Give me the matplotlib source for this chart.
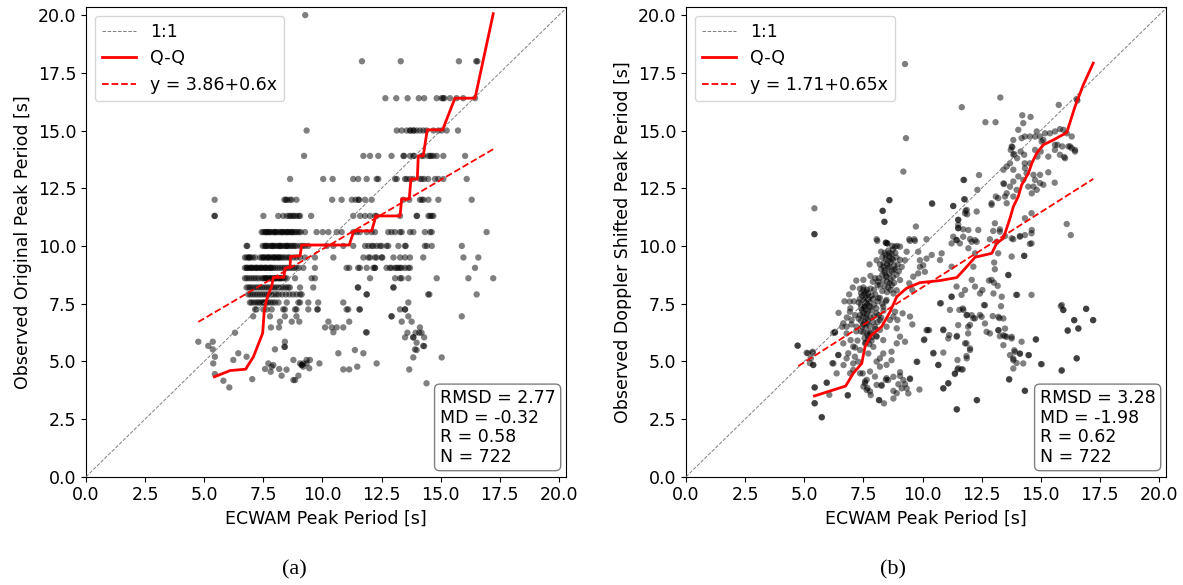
import matplotlib.pyplot as plt

# ---- panel (a): observed original peak period (binned rows) ----
a_levels = [20.0, 18.0, 16.4, 15.0, 13.9, 12.9, 12.0, 11.3, 10.6, 10.0,
            9.5, 9.05, 8.6, 8.2, 7.9, 7.55, 7.25, 6.95]
a_rows_x = [
    [9.27],
    [11.67, 13.31, 15.77, 16.5, 16.55],
    [12.66, 13.12, 13.6, 14.07, 14.3, 14.83, 15.04, 15.1, 15.15, 15.39, 15.67, 15.95, 16.45],
    [9.33, 13.14, 13.35, 13.56, 13.7, 13.72, 13.84, 13.86, 13.98, 14.12, 14.26, 14.4, 14.69,
     14.9, 15.04, 15.25, 15.73],
    [9.22, 11.73, 12.01, 12.36, 12.92, 13.42, 13.45, 13.7, 13.84, 13.88, 14.19, 14.27, 14.47,
     14.55, 14.6, 14.69, 14.83, 15.11, 16.03],
    [8.63, 10.03, 10.43, 11.3, 11.51, 11.87, 12.29, 12.36, 13.07, 13.14, 13.49, 13.56, 13.7,
     13.84, 14.12, 14.2, 14.3, 14.47, 14.76, 14.9, 15.11, 16.1],
    [5.44, 8.39, 8.45, 8.5, 8.62, 8.7, 8.9, 10.41, 10.81, 11.24, 11.4, 11.52, 11.55, 11.8,
     12.08, 13.42, 13.67, 14.12, 14.2, 14.27, 14.48, 14.9, 16.31],
    [5.44, 5.44, 7.5, 8.13, 8.34, 8.5, 8.6, 8.65, 8.75, 8.8, 8.9, 9.0, 9.05, 9.52, 11.3,
     11.59, 11.8, 12.01, 12.22, 12.29, 13.28, 13.98, 14.0, 14.48, 14.55, 14.62, 14.69],
    [7.43, 7.5, 7.58, 7.65, 7.72, 7.8, 7.88, 7.95, 8.02, 8.1, 8.18, 8.25, 8.32, 8.4, 8.48,
     8.55, 8.62, 8.7, 8.78, 8.85, 8.92, 9.0, 9.08, 9.26, 7.6, 7.75, 8.0, 8.3, 8.5, 8.7,
     9.75, 10.01, 10.25, 10.6, 10.81, 11.3, 11.45, 11.58, 11.87, 12.08, 12.22, 12.78,
     12.92, 13.07, 13.28, 13.35, 13.7, 13.84, 14.33, 14.55, 14.62, 16.94],
    [6.79, 6.82, 7.47, 7.55, 7.62, 7.7, 7.78, 7.85, 7.92, 8.0, 8.08, 8.15, 8.22, 8.3, 8.38,
     8.45, 8.52, 8.6, 8.68, 8.75, 8.82, 8.9, 9.05, 9.15, 9.26, 9.4, 7.6, 7.9, 8.2, 8.5,
     10.18, 10.46, 10.88, 11.3, 11.8, 11.94, 12.08, 12.15, 12.29, 12.43, 12.5, 12.71,
     12.78, 13.21, 13.49, 13.52, 14.33, 14.41, 14.62, 15.89],
    [6.72, 6.8, 6.88, 6.95, 7.05, 7.15, 7.36, 7.44, 7.52, 7.6, 7.68, 7.75, 7.82, 7.9, 7.98,
     8.05, 8.12, 8.2, 8.28, 8.35, 8.45, 8.55, 8.62, 8.77, 8.9, 9.05, 9.26, 6.9, 7.5, 7.7,
     7.95, 8.15, 9.68, 10.46, 11.73, 11.94, 12.01, 12.22, 12.29, 12.5, 12.53, 13.0, 13.28,
     13.49, 13.7, 14.26, 15.96, 16.59],
    [6.72, 6.8, 6.88, 6.95, 7.02, 7.1, 7.18, 7.25, 7.32, 7.4, 7.48, 7.55, 7.62, 7.7, 7.78,
     7.85, 7.92, 8.0, 8.1, 8.2, 8.3, 8.4, 8.5, 8.6, 8.7, 8.8, 8.9, 9.0, 9.19, 6.8, 7.0,
     7.2, 7.4, 7.6, 7.8, 9.68, 11.02, 11.13, 11.51, 11.58, 11.87, 12.15, 12.22, 12.22,
     12.71, 12.85, 12.92, 13.07, 13.14, 13.21, 13.28, 13.35, 13.49, 13.63, 13.7, 16.45],
    [6.72, 6.8, 6.9, 7.0, 7.1, 7.2, 7.3, 7.43, 7.5, 7.58, 7.65, 7.72, 7.8, 7.88, 7.95,
     8.02, 8.1, 8.18, 8.25, 8.32, 8.4, 8.49, 7.6, 7.8, 8.0, 8.2, 8.84, 9.54, 9.68, 12.01,
     13.07, 13.28, 13.35, 13.63, 14.83, 16.17, 17.22],
    [6.79, 6.88, 6.95, 7.05, 7.15, 7.25, 7.35, 7.45, 7.55, 7.65, 7.75, 7.85, 7.95, 8.05,
     8.15, 8.25, 8.35, 8.45, 8.55, 8.62, 9.05, 9.61, 11.49, 11.51, 13.0, 13.0],
    [6.86, 6.95, 7.05, 7.15, 7.25, 7.35, 7.45, 7.55, 7.65, 7.75, 7.85, 7.95, 8.05, 8.15,
     8.3, 8.45, 8.6, 8.75, 8.9, 9.05, 9.12, 11.87, 11.87, 14.47, 14.52, 16.52],
    [6.93, 7.0, 7.1, 7.2, 7.28, 7.35, 7.45, 7.5, 7.55, 7.62, 7.7, 7.8, 7.9, 8.0, 8.14,
     8.49, 8.98, 9.05, 9.4, 9.82, 10.88, 13.63],
    [7.15, 7.21, 7.5, 7.64, 7.85, 8.34, 8.41, 8.84, 8.9, 9.4, 9.78, 9.8, 11.02, 11.09,
     11.56, 11.58, 13.28, 13.49, 13.49],
    [7.07, 7.78, 8.41, 8.9, 12.92, 12.92, 13.63, 15.89],
]
a_extra_x = [8.2, 8.7, 9.02, 10.25, 11.13, 13.35, 13.77, 7.82, 8.16, 10.11, 10.39, 10.6,
             10.88, 14.12, 10.46, 11.84, 13.59, 13.94, 14.09, 14.19, 6.3, 13.49, 13.84,
             13.84, 14.3, 13.98, 14.26, 13.91, 13.98, 14.3, 13.84, 15.04, 14.4, 13.67,
             12.29, 11.73, 11.37, 11.47, 10.88, 11.13, 10.67, 4.75, 5.17, 5.36, 5.36, 5.45,
             5.38, 5.45, 5.81, 6.06, 6.23, 6.44, 6.79, 7.03, 7.57, 7.71, 7.85, 7.81, 7.99,
             8.17, 8.27, 8.41, 8.41, 8.48, 8.77, 8.77, 8.84, 8.98, 9.05, 9.12, 9.19, 9.33,
             9.44, 9.33, 9.47, 9.87, 7.92, 9.12, 9.19, 8.39, 11.87]
a_extra_y = [6.72, 6.72, 6.72, 6.72, 6.72, 6.72, 6.72, 6.47, 6.47, 6.47, 6.47, 6.47,
             6.47, 6.47, 6.26, 6.26, 6.24, 6.24, 6.24, 6.24, 6.24, 6.04, 6.04,
             6.04, 6.04, 5.81, 5.67, 5.52, 5.49, 5.66, 5.17, 5.17, 4.05, 4.65,
             4.91, 5.35, 5.49, 4.77, 4.65, 4.65, 5.35, 5.85, 5.67, 5.85, 5.52, 5.2,
             4.91, 4.45, 4.16, 3.87, 5.06, 5.35, 5.2, 4.23, 4.67, 4.91, 4.77, 4.55, 5.52,
             4.67, 4.38, 5.85, 5.63, 4.64, 5.06, 4.19, 4.19, 4.38, 4.91, 4.84, 4.77, 4.91,
             4.7, 5.06, 5.06, 4.91, 4.84, 4.84, 4.91, 5.63, 6.25]

a_qq_x = [5.43, 6.09, 6.75, 7.08, 7.47, 7.54, 7.67, 7.85, 7.92, 8.37, 8.41, 8.63, 8.65,
          9.05, 9.12, 11.13, 11.33, 12.08, 12.26, 13.28, 13.35, 13.67, 13.74, 14.01,
          14.05, 14.26, 14.43, 15.08, 15.6, 16.45, 17.22]
a_qq_y = [4.33, 4.6, 4.66, 5.2, 6.22, 7.23, 7.8, 8.24, 8.64, 8.64, 9.03, 9.1, 9.54,
          9.57, 10.04, 10.04, 10.65, 10.65, 11.3, 11.3, 12.04, 12.04, 12.9, 12.9,
          13.9, 13.9, 15.03, 15.03, 16.4, 16.4, 20.06]
a_fit = (3.86, 0.6)
a_stats = "RMSD = 2.77\nMD = -0.32\nR = 0.58\nN = 722"

# ---- panel (b): observed Doppler shifted peak period ----
b_dense_x = [8.25, 8.4, 8.55, 8.7, 8.85, 8.3, 8.45, 8.6, 8.75, 8.9, 8.35, 8.5, 8.65, 8.8,
             8.95, 8.25, 8.4, 8.55, 8.7, 8.85, 8.3, 8.45, 8.6, 8.75, 8.9, 8.35, 8.5, 8.65,
             8.8, 8.2, 8.4, 8.55, 8.7, 8.3, 8.5, 8.65, 8.45, 8.6, 8.5, 8.7, 8.4, 8.55,
             8.8, 8.35, 8.6, 8.75, 8.15, 9.0, 9.05, 8.2,
             7.35, 7.5, 7.65, 7.8, 7.4, 7.55, 7.7, 7.85, 7.35, 7.5, 7.6, 7.75, 7.9, 7.4,
             7.55, 7.65, 7.8, 7.45, 7.6, 7.7, 7.85, 7.35, 7.5, 7.65, 7.8, 7.4, 7.55, 7.7,
             7.9, 7.45, 7.6, 7.75, 7.5, 7.65, 7.8, 7.55, 7.7, 7.85, 7.6, 7.75, 7.45, 7.6,
             7.5, 7.65, 7.55, 7.7, 7.4, 7.6, 7.75, 7.5, 7.3, 7.95, 7.95, 7.3, 8.0, 8.05,
             7.4, 7.7, 7.85, 7.6,
             8.0, 8.1, 8.05, 8.15, 8.2, 7.95, 8.1, 8.0, 7.9, 7.8, 8.3, 8.35, 8.25, 8.45,
             8.1]
b_dense_y = [9.75, 9.7, 9.8, 9.65, 9.7, 9.5, 9.45, 9.55, 9.4, 9.5, 9.25, 9.2, 9.3, 9.15,
             9.2, 9.0, 8.95, 9.05, 8.9, 9.0, 8.75, 8.7, 8.8, 8.65, 8.75, 8.5, 8.45, 8.55,
             8.4, 8.3, 8.25, 8.2, 8.3, 8.05, 8.0, 8.1, 9.6, 9.1, 8.65, 9.45, 8.85, 9.35,
             8.95, 9.1, 8.4, 9.85, 8.6, 8.9, 9.4, 9.2,
             8.15, 8.2, 8.1, 8.15, 7.95, 7.9, 7.95, 7.85, 7.7, 7.65, 7.75, 7.6, 7.7, 7.45,
             7.4, 7.5, 7.35, 7.2, 7.25, 7.15, 7.2, 7.0, 6.95, 7.05, 6.9, 6.75, 6.7, 6.8,
             6.7, 6.5, 6.45, 6.55, 6.25, 6.2, 6.3, 6.0, 5.95, 6.05, 5.8, 5.75, 7.85, 7.55,
             7.1, 6.65, 7.35, 7.7, 7.3, 6.9, 7.4, 6.6, 7.55, 7.45, 6.95, 6.85, 6.4, 6.1,
             6.3, 6.1, 5.9, 8.0,
             7.9, 7.6, 7.3, 7.0, 7.75, 8.1, 8.3, 8.6, 8.45, 8.7, 7.5, 7.2, 6.9, 7.6,
             6.7]

b_x = [5.43, 5.43, 5.43, 8.6, 8.31, 8.39, 8.09, 8.51, 8.51, 9.72, 10.17, 9.47, 9.68, 8.84,
       9.05, 8.6, 7.76, 7.5, 8.13, 6.92, 6.23, 4.72, 5.15, 5.35, 5.24, 5.38, 6.19, 6.44,
       6.65, 6.37, 5.95, 5.43, 5.43, 5.74, 6.06, 6.84, 9.47, 9.57, 10.22, 10.06, 9.78,
       9.87, 9.47, 9.4, 9.19, 8.98, 8.77, 8.77, 8.45, 8.16, 8.27, 7.99, 7.78, 7.78, 7.57,
       7.5, 7.67, 7.36, 7.07, 7.28, 7.64, 8.06, 8.2, 8.48, 8.69, 8.34, 8.69, 8.91, 9.05,
       9.26, 8.91, 8.77, 8.94, 9.16, 8.84, 8.2, 8.48, 9.05, 9.05, 9.26, 9.33, 6.79, 6.96,
       7.07, 6.86, 7.14, 7.36, 7.21, 7.0, 6.79, 7.57, 7.71, 7.92, 8.06, 8.2, 7.99, 7.78,
       8.34, 8.48, 8.62, 8.2, 8.06, 8.34, 8.48, 8.77, 8.13, 7.76, 8.91, 9.05, 9.12, 9.26,
       9.33, 9.82, 9.89, 9.82, 9.61, 9.44, 9.57, 10.03, 10.17, 9.89, 8.06, 7.5, 6.93,
       6.65, 6.3, 6.9, 7.1, 6.95, 7.15, 7.0, 6.8, 6.6, 7.2, 6.45, 7.05, 7.2, 6.7, 7.25,
       7.15,
       11.51, 11.51, 11.51, 11.23, 11.44, 11.58, 11.94, 12.36, 11.94, 12.08, 12.29, 11.8,
       11.87, 12.29, 11.3, 12.92, 13.06, 13.27, 13.13, 13.77, 14.33, 14.61, 14.61, 14.33,
       14.12, 14.61, 14.3, 13.77, 13.2, 13.03, 13.06, 13.63, 12.81, 13.02, 13.18, 13.96,
       14.61, 13.0, 13.35, 13.32, 12.64, 13.21, 13.42, 13.49, 13.42, 13.56, 13.27, 13.21,
       13.42, 13.77, 13.7, 13.91, 14.12, 14.19, 14.48, 13.84, 13.84, 13.66, 14.33, 14.8,
       15.01, 15.88, 15.85, 15.95, 16.14, 16.42, 16.59, 16.92, 17.21, 16.52, 16.1, 16.27,
       12.31, 11.46, 10.88, 11.09, 10.67, 10.46, 10.88, 10.28, 10.88, 11.13, 11.46, 11.23,
       10.74, 11.65, 11.8, 12.08, 11.44, 11.7, 11.86, 12.08, 12.22, 11.51, 11.93, 11.93,
       11.86, 12.01, 11.86, 11.48, 11.51, 11.65, 11.37, 12.5, 12.71, 12.85, 12.64, 12.92,
       12.53, 12.43, 12.22, 10.74, 10.39, 10.81, 10.1, 11.23, 12.15, 12.22,
       9.26, 9.3, 9.19, 11.66, 13.29, 12.66, 13.09, 14.22, 14.57, 15.76, 16.52, 16.55,
       8.6, 10.4, 11.73, 12.39, 11.79, 12.32, 12.92, 13.1, 13.2, 13.42, 13.45, 13.49,
       13.56, 13.7, 13.56, 13.84, 13.98, 13.84, 13.77, 13.8, 13.84, 13.88, 13.7, 13.56,
       13.42, 13.84, 14.05, 14.26, 14.4, 14.47, 14.69, 14.76, 14.83, 14.97, 14.97, 15.11,
       14.69, 14.62, 14.33, 14.54, 14.76, 14.86, 15.0, 15.32, 15.32, 15.04, 15.18, 14.97,
       14.76, 14.54, 14.33, 14.19, 14.05, 13.84, 13.73, 14.0, 14.15, 14.3, 14.32, 15.39,
       15.6, 15.81, 15.96, 16.1, 16.31, 16.24, 16.45, 16.17, 15.81, 16.03, 15.6, 15.91,
       15.6, 14.26, 14.83, 15.11, 16.45, 16.31, 15.99, 15.59, 15.71,
       4.72, 5.1, 5.36, 5.28, 5.38, 5.45, 5.45, 5.74, 5.95, 6.23, 6.3, 6.44, 6.66, 6.79,
       6.84, 6.94, 7.07, 7.47, 7.57, 7.64, 7.81, 8.17, 8.37, 8.06, 8.27, 8.55, 8.77, 8.91,
       9.12, 9.47, 9.75, 10.17, 10.08, 10.46, 10.67, 10.88, 11.09, 11.44, 12.29, 11.37,
       11.48, 11.7, 11.87, 12.01, 11.8, 11.09, 10.88, 11.44, 10.78, 11.16, 11.56, 11.23,
       11.73, 11.89, 12.15, 12.43, 12.01, 12.6, 12.97, 13.25, 13.21, 13.49, 13.77, 13.88,
       14.12, 13.84, 13.98, 14.26, 14.5, 14.79, 15.04, 15.89, 15.89, 15.96, 16.92, 17.22,
       16.41, 16.59, 16.14, 16.52, 14.33, 13.67, 14.3, 14.0, 13.63, 14.54, 14.62, 14.12,
       13.84,
       8.32, 8.39, 10.41, 11.3, 11.76, 11.76, 11.82, 11.89, 11.51, 11.51, 11.72, 11.3,
       11.44, 11.72, 12.01, 12.22, 8.06, 8.45, 8.45, 8.72, 8.93, 9.44, 9.65, 12.85, 12.99,
       13.27, 13.49]
b_y = [11.63, 10.51, 10.51, 11.99, 11.52, 11.04, 10.22, 10.11, 10.11, 10.84, 10.29, 10.22,
       10.22, 9.97, 9.97, 9.68, 9.2, 8.53, 8.45, 7.59, 6.24, 5.68, 5.35, 5.42, 4.92, 4.85,
       4.92, 5.28, 5.78, 4.48, 4.08, 3.87, 3.19, 2.59, 3.55, 3.52, 6.94, 6.6, 6.36, 5.92,
       4.98, 3.78, 4.23, 3.61, 4.19, 4.01, 3.72, 3.39, 4.2, 3.32, 3.94, 4.34, 4.56, 3.7,
       4.13, 3.91, 3.84, 4.48, 4.63, 4.99, 4.2, 4.99, 4.77, 4.85, 5.05, 5.34, 5.42, 5.78,
       6.07, 5.85, 6.43, 6.94, 6.79, 7.08, 7.15, 5.13, 4.27, 4.53, 4.37, 4.01, 3.83, 6.21,
       5.92, 5.64, 5.35, 5.2, 5.49, 6.5, 6.79, 6.5, 5.78, 5.34, 5.63, 6.07, 6.36, 6.5, 6.21,
       5.92, 6.5, 6.79, 6.79, 7.08, 7.37, 7.66, 7.94, 7.73, 7.8, 8.08, 8.52, 9.09, 9.38,
       9.75, 9.75, 9.09, 8.81, 8.67, 8.38, 8.09, 9.16, 9.45, 9.38, 9.38, 8.09, 7.15, 6.65,
       6.28, 7.9, 7.6, 7.3, 7.0, 6.6, 6.9, 6.5, 6.3, 7.1, 8.2, 8.5, 7.6, 5.9,
       5.6,
       11.13, 10.91, 10.77, 10.11, 10.26, 10.11, 10.69, 10.69, 9.9, 10.18, 10.18, 11.41,
       11.56, 11.49, 11.73, 11.78, 10.98, 10.62, 10.18, 10.33, 11.2, 11.42, 10.55, 10.47,
       10.4, 10.11, 9.57, 9.54, 9.68, 9.28, 8.99, 8.74, 8.5, 8.41, 8.27, 7.88, 7.88, 7.94,
       7.8, 7.39, 7.43, 6.93, 6.86, 6.42, 6.13, 6.06, 6.09, 6.35, 5.7, 6.06, 5.27, 5.41,
       5.34, 5.85, 5.27, 5.05, 4.69, 4.21, 3.72, 5.95, 4.88, 4.59, 7.39, 7.22, 6.32, 6.78,
       6.42, 7.27, 6.78, 5.13, 10.95, 10.47,
       3.32, 2.92, 3.83, 4.05, 4.85, 5.34, 5.38, 6.35, 6.38, 6.14, 6.1, 7.8, 7.51, 7.88,
       8.09, 8.53, 8.24, 7.29, 7.0, 7.0, 6.86, 6.57, 6.5, 6.21, 5.78, 5.49, 5.23, 5.06, 4.7,
       4.65, 4.45, 6.93, 6.28, 6.21, 6.64, 8.53, 8.09, 7.94, 8.24, 9.39, 9.61, 9.68, 8.88,
       9.1, 9.1, 9.68,
       17.88, 14.67, 13.22, 16.01, 16.43, 15.36, 15.36, 15.66, 15.59, 16.11, 16.36, 16.3,
       11.98, 11.85, 12.86, 13.07, 12.02, 12.43, 11.85, 12.14, 12.07, 12.71, 12.68, 12.14,
       12.28, 12.57, 11.85, 12.14, 12.43, 12.79, 14.31, 14.28, 13.95, 13.98, 13.58, 13.44,
       13.3, 13.3, 13.01, 12.86, 13.15, 12.57, 13.08, 12.86, 12.43, 12.72, 13.08, 12.65,
       12.57, 12.28, 13.37, 13.58, 14.16, 13.87, 14.09, 13.19, 13.87, 14.52, 14.88, 14.74,
       14.74, 14.74, 14.74, 14.67, 15.03, 14.59, 14.16, 13.8, 14.09, 13.95, 13.58, 14.88,
       14.96, 15.06, 15.03, 14.88, 14.74, 14.31, 14.16, 14.31, 13.95, 13.8, 14.38, 14.31,
       14.16, 15.32, 14.96, 14.59, 14.09, 14.23, 13.85, 12.74, 14.38,
       5.68, 5.37, 5.37, 5.13, 4.84, 3.87, 3.18, 2.57, 4.07, 4.91, 6.24, 5.27, 4.84, 5.13,
       3.54, 4.48, 4.91, 4.48, 4.05, 3.76, 3.54, 3.32, 3.18, 3.98, 3.98, 4.19, 4.33, 3.62,
       3.83, 4.26, 4.98, 6.35, 5.95, 5.37, 4.84, 3.83, 4.05, 2.92, 3.32, 4.48, 4.65, 4.65,
       5.13, 5.56, 5.78, 5.99, 6.35, 6.07, 7.52, 7.23, 7.23, 7.8, 7.23, 7.01, 6.87, 7.01,
       6.58, 7.44, 6.96, 6.87, 6.35, 6.09, 5.99, 5.48, 5.33, 5.12, 4.93, 4.91, 5.27, 5.95,
       4.88, 4.62, 7.44, 7.23, 7.28, 6.79, 6.79, 6.43, 6.35, 5.13, 3.73, 4.23, 9.57, 7.88,
       8.74, 10.09, 10.69, 10.43, 10.29,
       11.52, 11.05, 11.82, 11.73, 12.02, 12.86, 11.52, 11.37, 11.13, 10.77, 10.72, 10.4,
       10.25, 10.4, 10.3, 10.25, 10.29, 10.14, 10.14, 10.0, 10.0, 10.29, 10.29, 10.29,
       10.65, 10.72, 10.43]

b_qq_x = [5.43, 6.75, 7.07, 7.43, 7.57, 7.81, 8.27, 8.63, 8.91, 9.33, 9.89, 10.74, 11.45,
          11.87, 12.22, 12.93, 13.14, 13.42, 13.49, 13.7, 13.84, 14.05, 14.19, 14.48,
          14.62, 14.83, 15.11, 15.53, 16.1, 16.45, 16.8, 17.22]
b_qq_y = [3.5, 3.93, 4.48, 4.91, 5.64, 6.1, 6.5, 7.15, 7.8, 8.17, 8.41, 8.5, 8.63, 9.1,
          9.51, 9.68, 10.12, 10.33, 10.55, 11.2, 11.7, 12.14, 12.64, 13.15, 13.58, 14.02,
          14.38, 14.59, 14.91, 16.04, 16.98, 17.92]
b_fit = (1.71, 0.65)
b_stats = "RMSD = 3.28\nMD = -1.98\nR = 0.62\nN = 722"

fit_range = [4.75, 17.22]
ticks = [0.0, 2.5, 5.0, 7.5, 10.0, 12.5, 15.0, 17.5, 20.0]

a_x = [x for xs in a_rows_x for x in xs] + a_extra_x
a_y = [lv for lv, xs in zip(a_levels, a_rows_x) for _ in xs] + a_extra_y

fs = 12.5
fig = plt.figure(figsize=(11.83, 5.85), dpi=100)
ax1 = fig.add_axes([0.0727, 0.185, 0.4058, 0.803])
ax2 = fig.add_axes([0.5799, 0.185, 0.4058, 0.803])

panels = [
    (ax1, a_x, a_y, a_qq_x, a_qq_y, a_fit, a_stats, 'Observed Original Peak Period [s]'),
    (ax2, b_x + b_dense_x, b_y + b_dense_y, b_qq_x, b_qq_y, b_fit, b_stats,
     'Observed Doppler Shifted Peak Period [s]'),
]

for ax, xs, ys, qx, qy, fit, stats, ylab in panels:
    ax.scatter(xs, ys, s=21, c='k', alpha=0.5, edgecolors='none', zorder=2)
    ax.plot([0, 21], [0, 21], color='grey', linestyle='--', linewidth=0.7, label='1:1', zorder=3)
    ax.plot(qx, qy, color='red', linewidth=2, label='Q-Q', zorder=4)
    fy = [fit[0] + fit[1] * x for x in fit_range]
    ax.plot(fit_range, fy, color='red', linestyle='--', linewidth=1.3,
            label='y = %s+%sx' % (fit[0], fit[1]), zorder=4)
    ax.set_xlim(0, 20.3)
    ax.set_ylim(0, 20.35)
    ax.set_xticks(ticks)
    ax.set_yticks(ticks)
    ax.set_xticklabels(['%.1f' % t for t in ticks])
    ax.set_yticklabels(['%.1f' % t for t in ticks])
    ax.tick_params(labelsize=fs)
    ax.set_xlabel('ECWAM Peak Period [s]', fontsize=fs)
    ax.set_ylabel(ylab, fontsize=fs)
    ax.legend(loc='upper left', fontsize=fs)
    props = dict(boxstyle='round', facecolor='white', alpha=0.5)
    ax.text(0.978, 0.024, stats, transform=ax.transAxes, fontsize=fs,
            ha='right', va='bottom', multialignment='left', linespacing=1.1,
            bbox=props, zorder=5)

fig.text(0.249, 0.026, '(a)', family='Liberation Serif', fontsize=16, ha='center', va='center')
fig.text(0.755, 0.026, '(b)', family='Liberation Serif', fontsize=16, ha='center', va='center')

fig.savefig('out.png', dpi=100)
